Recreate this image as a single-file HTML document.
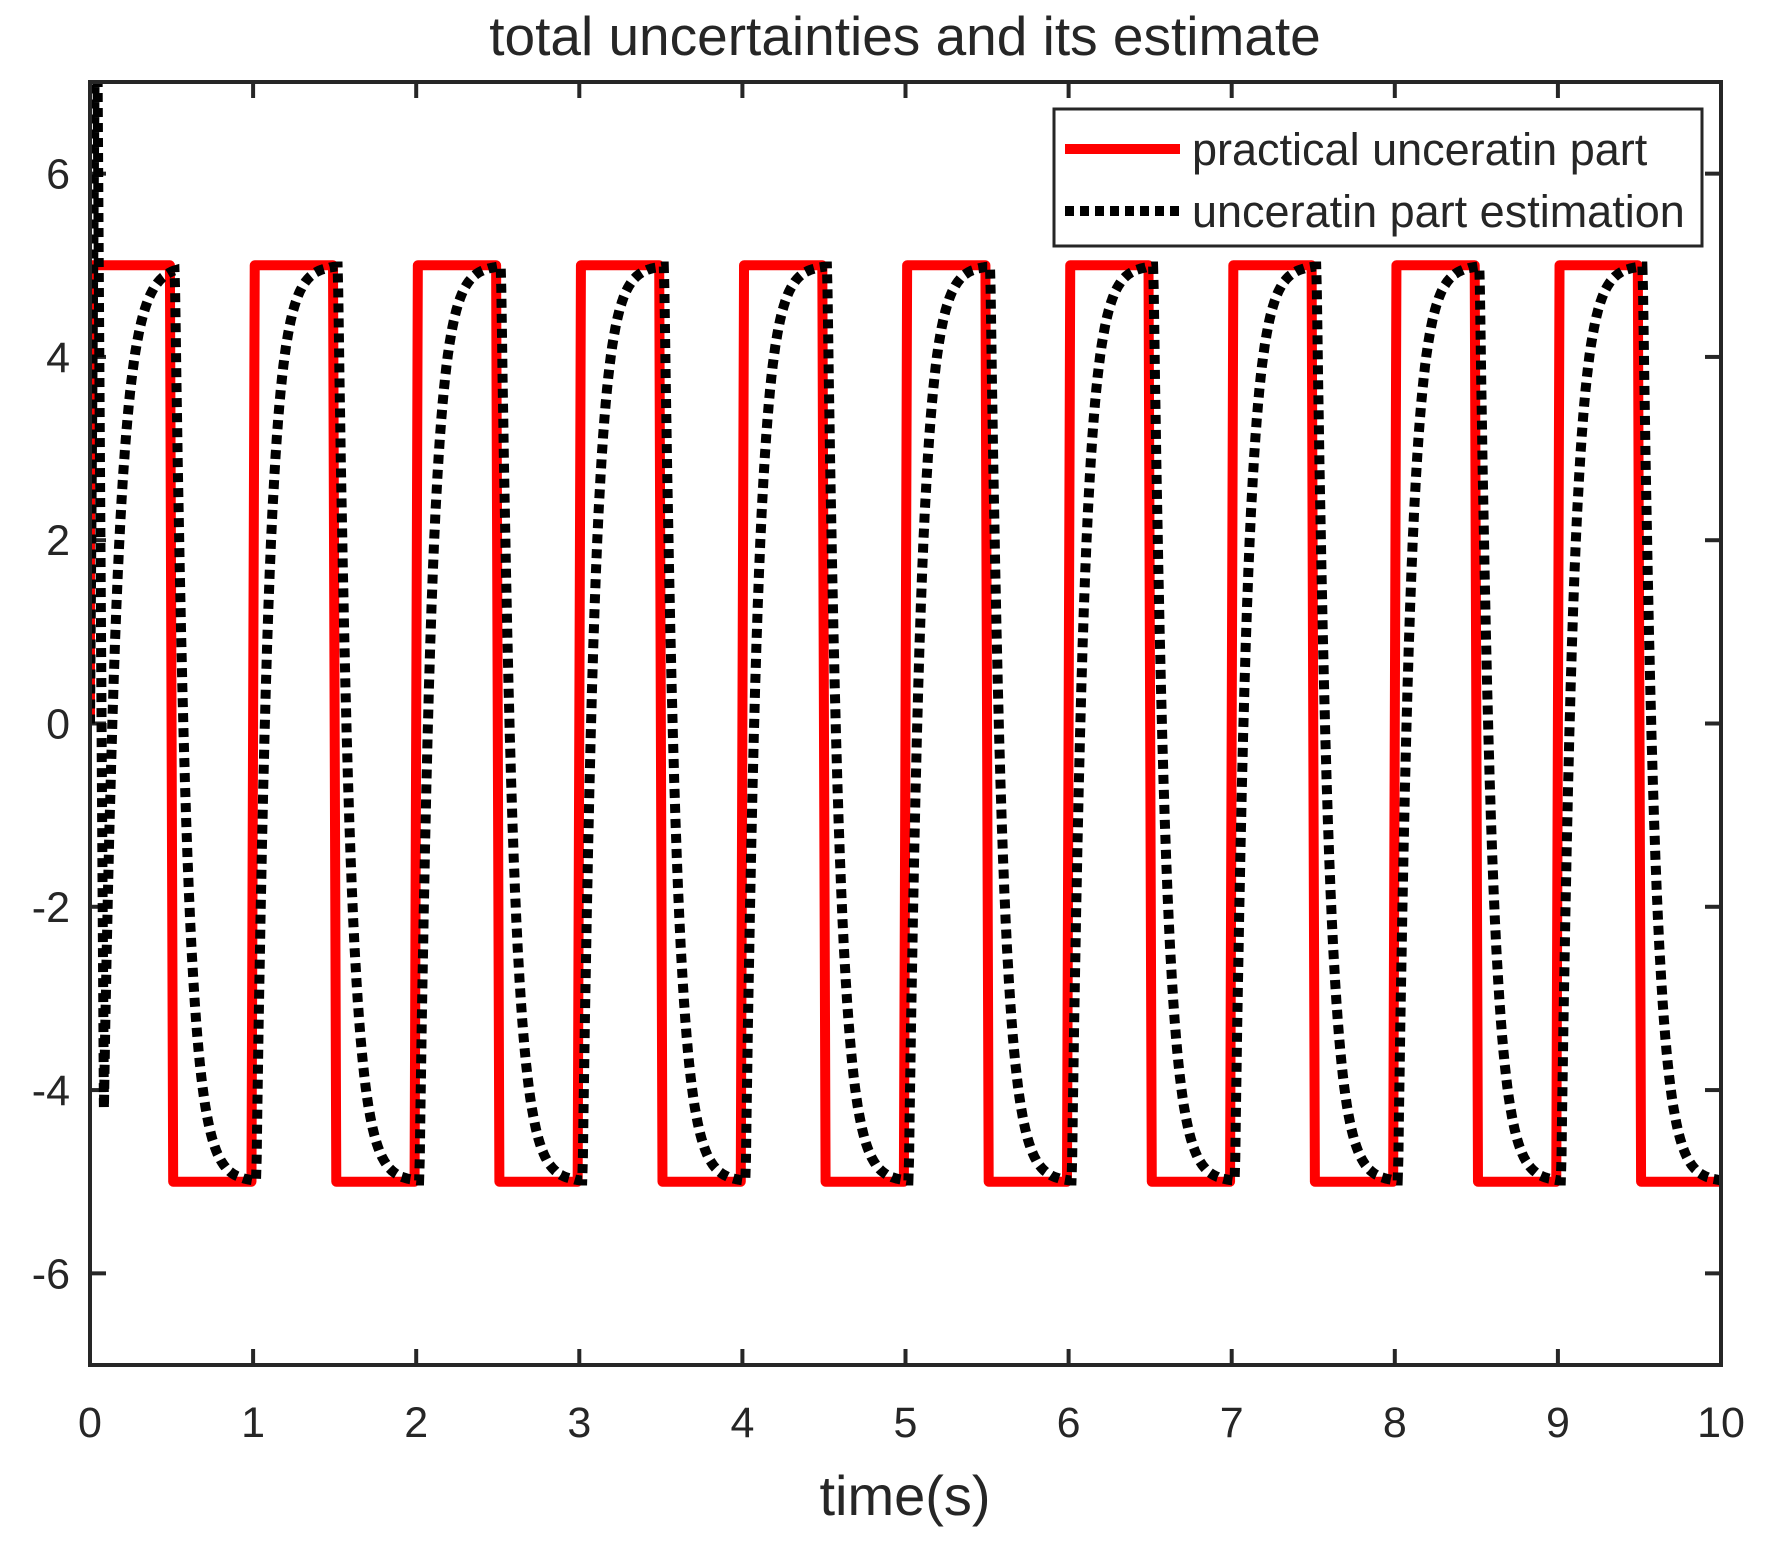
<!DOCTYPE html>
<html><head><style>
html,body{margin:0;padding:0;background:#fff;}
svg{display:block;}
text{font-family:"Liberation Sans",Arial,sans-serif;fill:#262626;}
</style></head><body>
<svg id="s" width="1767" height="1550" xmlns="http://www.w3.org/2000/svg">
<defs><clipPath id="c"><rect x="90" y="82" width="1631" height="1283"/></clipPath></defs>
<g id="ticks" stroke="#262626" stroke-width="4"></g>
<g id="labels" font-size="43"></g>
<g clip-path="url(#c)">
<path id="red" fill="none" stroke="#ff0000" stroke-width="10" stroke-linejoin="round"/>
<path id="blk" fill="none" stroke="#000" stroke-width="10" stroke-dasharray="9 6"/>
</g>
<rect x="90" y="82" width="1631" height="1283" fill="none" stroke="#262626" stroke-width="4"/>
<text x="905" y="55" font-size="55" text-anchor="middle" fill="#000">total uncertainties and its estimate</text>
<text x="905" y="1515" font-size="56" text-anchor="middle">time(s)</text>
<rect x="1054" y="109" width="648" height="137" fill="#fff" stroke="#262626" stroke-width="3"/>
<line x1="1065" y1="149" x2="1180" y2="149" stroke="#ff0000" stroke-width="10"/>
<line x1="1065" y1="211" x2="1180" y2="211" stroke="#000" stroke-width="10" stroke-dasharray="9 6"/>
<text x="1192" y="165" font-size="45" fill="#000">practical unceratin part</text>
<text x="1192" y="227" font-size="45" fill="#000">unceratin part estimation</text>
</svg>
<script>
var X0=90,X1=1721,Y0=82,Y1=1365;
function px(t){return X0+t*(X1-X0)/10;}
function py(v){return Y0+(7-v)*(Y1-Y0)/14;}
var tk=document.getElementById('ticks'),lb=document.getElementById('labels'),ns='http://www.w3.org/2000/svg';
function el(p,n,a,txt){var e=document.createElementNS(ns,n);for(var k in a)e.setAttribute(k,a[k]);if(txt!=null)e.textContent=txt;p.appendChild(e);}
for(var i=0;i<=10;i++){var x=px(i);el(tk,'line',{x1:x,y1:Y1,x2:x,y2:Y1-16});el(tk,'line',{x1:x,y1:Y0,x2:x,y2:Y0+16});
el(lb,'text',{x:x,y:1437,'text-anchor':'middle'},String(i));}
for(var v=-6;v<=6;v+=2){var y=py(v);el(tk,'line',{x1:X0,y1:y,x2:X0+16,y2:y});el(tk,'line',{x1:X1,y1:y,x2:X1-16,y2:y});
el(lb,'text',{x:70,y:y+15,'text-anchor':'end'},String(v));}
var d='M'+px(0)+' '+py(0)+' L'+px(0)+' '+py(5);
for(var k=0;k<20;k++){var t=k*0.5,val=(k%2==0)?5:-5,nv=-val;
d+=' L'+px(t+0.5-0.01)+' '+py(val);
if(k<19)d+=' L'+px(t+0.5+0.01)+' '+py(nv);}
d+=' L'+px(10)+' '+py(-5);
document.getElementById('red').setAttribute('d',d);
var pts=[[0,0],[0.03,7.6],[0.045,7.6],[0.085,-4.2]];
var del=0.02,tau=0.075;
for(var t=0.09;t<=10;t+=0.004){
var v;
if(t<0.5+del){v=5-(5+4.2)*Math.exp(-(t-0.085)/0.085);}
else{var k=Math.floor((t-del)/0.5);var tt=t-del-k*0.5;var target=(k%2==0)?5:-5;
v=target-2*target*Math.exp(-tt/tau);}
pts.push([t,v]);}
var b='';pts.forEach(function(p,i){b+=(i?' L':'M')+px(p[0]).toFixed(1)+' '+py(p[1]).toFixed(1);});
document.getElementById('blk').setAttribute('d',b);
</script>
</body></html>
